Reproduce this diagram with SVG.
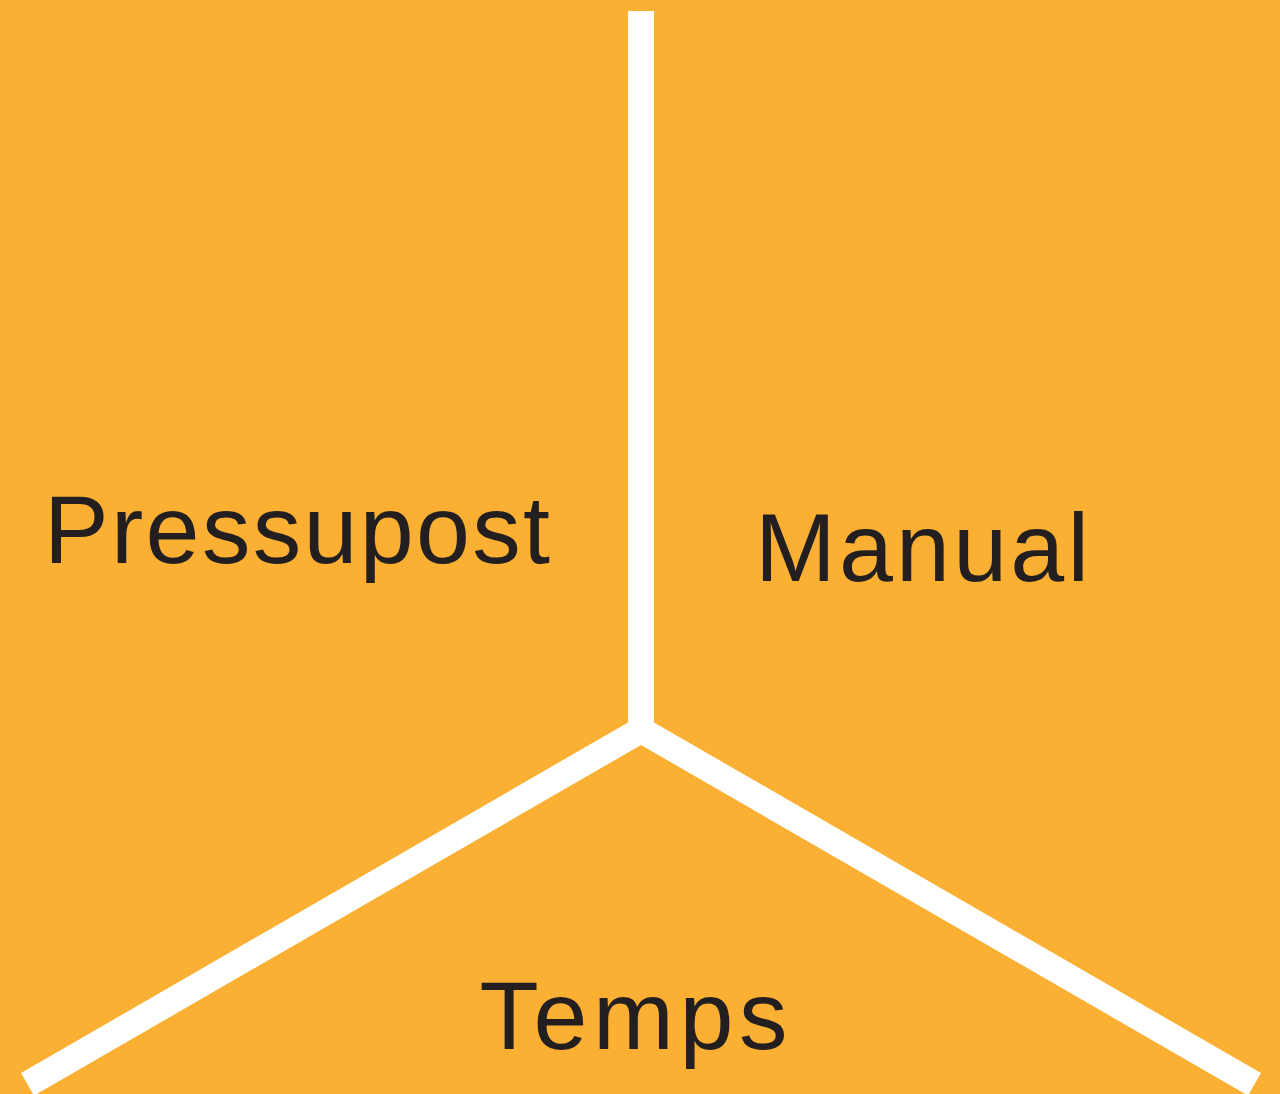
<svg xmlns="http://www.w3.org/2000/svg" width="1280" height="1094" viewBox="0 0 1280 1094">
<style>
.lbl{font-family:"Liberation Sans",Arial,sans-serif;font-size:97px;fill:#231F20}
.edge{stroke:#FFFFFF;stroke-width:26;fill:none;stroke-linecap:butt;stroke-linejoin:miter}
</style>
<rect x="0" y="0" width="1280" height="1094" fill="#FBB034"/>
<g id="connectors">
<line class="edge" x1="641" y1="11" x2="641" y2="730"/>
<path class="edge" d="M27.5,1084.3 L641,730 L1254.5,1084.3"/>
</g>
<g id="pressupost"><text class="lbl" x="44" y="563" textLength="506" lengthAdjust="spacing">Pressupost</text></g>
<g id="manual"><text class="lbl" x="755" y="581" textLength="334" lengthAdjust="spacing">Manual</text></g>
<g id="temps"><text class="lbl" x="479.5" y="1048.5" textLength="308" lengthAdjust="spacing">Temps</text></g>
</svg>
